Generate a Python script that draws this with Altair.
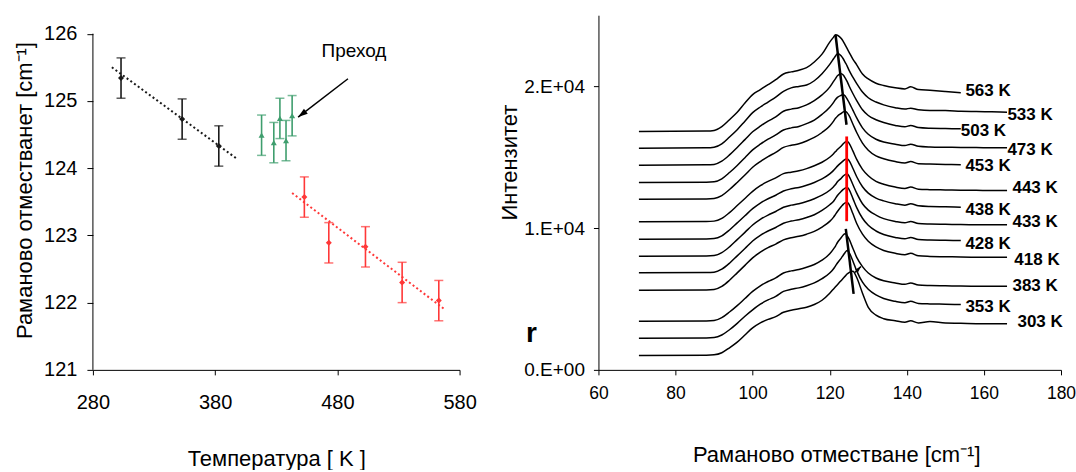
import altair as alt
import pandas as pd

FONT = "Liberation Sans"

# ---------------- Left panel data ----------------
temps_low = [303, 353, 383]
shift_low = [125.34, 124.73, 124.33]
temps_mid = [418, 428, 433, 438, 443]
shift_mid = [124.49, 124.38, 124.74, 124.41, 124.78]
temps_high = [453, 473, 503, 533, 563]
shift_high = [123.57, 122.89, 122.83, 122.30, 122.03]
err_half = 0.3

trend_low_x = [295.5, 397]
trend_low_y = [125.50, 124.15]
trend_high_x = [443, 568.5]
trend_high_y = [123.63, 121.89]

arrow_from = (488.7, 125.33)
arrow_to = (447.9, 124.76)
label_prehod = (493.6, 125.74)

y_ticks_left = [121, 122, 123, 124, 125, 126]
x_ticks_left = [280, 380, 480, 580]

# ---------------- Right panel data ----------------
names = ["563 K", "533 K", "503 K", "473 K", "453 K", "443 K", "438 K",
         "433 K", "428 K", "418 K", "383 K", "353 K", "303 K"]
baselines = [16805, 15630, 14431, 13209, 12033, 10435, 9212, 8013, 6838,
             5616, 3429, 2230, 1008]
wavenumber = [70.5, 88, 90, 92, 94, 96, 98, 100, 102, 104, 106, 108, 110, 112,
              114, 116, 118, 120, 121, 121.5, 122, 123, 123.5, 124, 124.5, 125,
              126, 127, 128.5, 130, 132, 134, 137, 139.5, 141, 143, 146, 150,
              154, 158, 162, 166]
N = None
rel_563 = [0, 30, 70, 340, 830, 1350, 2000, 2600, 2950, 3300, 3650, 4050, 4200, 4320, 4500, 4900, 5450, 6300, 6650, 6820, 6780, 6550, 6350, 6100, 5850, 5600, 5100, 4700, 4050, 3700, 3400, 3240, 3080, 3000, 3150, 2950, 2900, 2820, 2730, N, N, N]
rel_533 = [0, 20, 60, 300, 780, 1300, 1900, 2500, 2900, 3250, 3600, 4000, 4250, 4350, 4450, 4750, 5250, 5900, 6300, 6500, 6655, 6500, 6300, 6050, 5800, 5500, 5000, 4550, 3950, 3550, 3250, 3050, 2850, 2750, 2820, 2700, 2650, 2650, 2600, 2580, 2560, 2536]
rel_503 = [0, 20, 50, 280, 720, 1250, 1800, 2350, 2750, 3100, 3400, 3800, 3950, 4050, 4250, 4550, 4950, 5500, 5900, 6100, 6300, 6443, 6350, 6150, 5900, 5600, 5050, 4550, 3900, 3500, 3200, 3000, 2800, 2700, 2800, 2650, 2600, 2580, 2564, N, N, N]
rel_473 = [0, 20, 50, 260, 700, 1200, 1750, 2300, 2700, 3050, 3350, 3700, 3850, 3950, 4150, 4400, 4800, 5300, 5650, 5850, 6000, 6150, 6205, 6100, 5900, 5650, 5100, 4550, 3850, 3400, 3050, 2850, 2700, 2600, 2700, 2550, 2500, 2480, 2470, 2460, 2450, 2447]
rel_453 = [0, 20, 50, 250, 680, 1180, 1700, 2250, 2650, 3000, 3300, 3650, 3800, 3900, 4100, 4350, 4700, 5150, 5500, 5700, 5850, 6050, 6150, 6204, 6100, 5900, 5300, 4700, 3950, 3450, 3050, 2850, 2650, 2550, 2650, 2500, 2480, 2450, 2424, N, N, N]
rel_443 = [0, 20, 50, 240, 650, 1150, 1650, 2150, 2550, 2850, 3100, 3400, 3500, 3600, 3750, 3950, 4200, 4550, 4800, 4950, 5100, 5350, 5500, 5620, 5686, 5550, 5000, 4400, 3700, 3250, 2850, 2650, 2450, 2350, 2450, 2300, 2270, 2250, 2230, 2220, 2210, 2210]
rel_438 = [0, 20, 50, 240, 650, 1150, 1650, 2150, 2550, 2850, 3100, 3400, 3550, 3650, 3800, 4000, 4250, 4600, 4850, 5000, 5150, 5400, 5520, 5620, 5668, 5550, 5000, 4400, 3700, 3250, 2900, 2700, 2500, 2400, 2500, 2350, 2300, 2280, 2255, N, N, N]
rel_433 = [0, 20, 50, 250, 660, 1170, 1680, 2200, 2600, 2900, 3150, 3450, 3600, 3700, 3850, 4050, 4300, 4650, 4900, 5050, 5250, 5500, 5650, 5750, 5809, 5650, 5050, 4450, 3700, 3250, 2900, 2650, 2450, 2350, 2450, 2300, 2270, 2250, 2230, 2220, 2215, 2213]
rel_428 = [0, 20, 50, 260, 680, 1200, 1720, 2250, 2650, 2950, 3200, 3500, 3650, 3750, 3900, 4100, 4400, 4800, 5050, 5250, 5450, 5750, 5880, 5980, 6039, 5880, 5250, 4600, 3850, 3350, 2950, 2700, 2500, 2400, 2500, 2350, 2320, 2300, 2280, N, N, N]
rel_418 = [0, 20, 50, 270, 700, 1220, 1750, 2280, 2680, 3000, 3250, 3550, 3700, 3800, 3950, 4150, 4450, 4850, 5150, 5350, 5550, 5900, 6050, 6150, 6203, 6050, 5400, 4700, 3950, 3450, 3050, 2800, 2600, 2500, 2600, 2420, 2380, 2360, 2340, 2330, 2330, 2325]
rel_383 = [0, 20, 50, 250, 650, 1100, 1600, 2100, 2500, 2800, 3050, 3400, 3550, 3650, 3800, 4000, 4300, 4750, 5100, 5300, 5550, 5900, 6080, 6162, 6050, 5800, 5150, 4500, 3850, 3400, 3050, 2850, 2700, 2600, 2700, 2550, 2520, 2500, 2480, 2470, 2470, 2467]
rel_353 = [0, 20, 50, 230, 600, 1050, 1550, 2000, 2400, 2700, 2950, 3300, 3450, 3550, 3700, 3900, 4200, 4600, 4900, 5100, 5300, 5650, 5850, 6050, 6183, 6050, 5450, 4750, 3950, 3450, 3050, 2800, 2600, 2500, 2600, 2450, 2420, 2400, 2375, N, N, N]
rel_303 = [0, 20, 50, 200, 550, 950, 1450, 1950, 2300, 2550, 2750, 3050, 3200, 3300, 3400, 3600, 3900, 4400, 4700, 4850, 5000, 5300, 5450, 5600, 5750, 5850, 5945, 5500, 4400, 3400, 2850, 2600, 2450, 2350, 2450, 2300, 2400, 2300, 2280, 2250, 2240, 2236]
spectra = [rel_563, rel_533, rel_503, rel_473, rel_453, rel_443, rel_438,
           rel_433, rel_428, rel_418, rel_383, rel_353, rel_303]

label_x = [155.2, 166.1, 154.0, 166.1, 155.2, 167.4, 155.2, 167.4, 155.2,
           167.9, 167.4, 155.2, 168.7]
label_y = [19626, 17933, 16805, 15465, 14358, 12835, 11234, 10409, 8886,
           7779, 5896, 4464, 3357]

# peak-position guide lines
guide_top = [(121.5, 23624), (124.35, 17278)]
guide_red = [(124.4, 10480), (124.4, 16453)]
guide_low = [(124.17, 9944), (126.2, 5360)]
small_arrow = [(126.5, 6862), (128.1, 7285)]

PLOT_H = 355

# ================= build left panel =================
rows = []
for grp, ts, ys in (("low", temps_low, shift_low), ("mid", temps_mid, shift_mid),
                    ("high", temps_high, shift_high)):
    for t, v in zip(ts, ys):
        rows.append({"T": t, "shift": v, "lo": v - err_half, "hi": v + err_half, "grp": grp})
pts = pd.DataFrame(rows)

grp_dom = ["low", "mid", "high"]
pt_color = alt.Color("grp:N", scale=alt.Scale(domain=grp_dom, range=["#000000", "#008000", "#ff0000"]), legend=None)
bar_color = alt.Color("grp:N", scale=alt.Scale(domain=grp_dom, range=["#1a1a1a", "#3f9e6e", "#ff3838"]), legend=None)
shape_enc = alt.Shape("grp:N", scale=alt.Scale(domain=grp_dom, range=["diamond", "triangle-up", "diamond"]), legend=None)

# the left plot area is taller than its axis (axis line stops at 126)
y_top_left = 121 + PLOT_H / 67.3
xL_scale = alt.Scale(domain=[280, 580], nice=False, zero=False)
yL_scale = alt.Scale(domain=[121, y_top_left], nice=False, zero=False)
xL_axis = alt.Axis(values=x_ticks_left, title="Температура [ K ]",
                   labelFontSize=20, titleFontSize=22, tickSize=5,
                   labelPadding=18, titlePadding=36)
yL_axis = alt.Axis(values=y_ticks_left, format="d", domain=False,
                   title="Раманово отместванет [cm⁻¹]",
                   labelFontSize=20, titleFontSize=22, tickSize=6,
                   labelPadding=10, titlePadding=7, titleY=175)

base_L = alt.Chart(pts)
bars = base_L.mark_rule(strokeWidth=1.6).encode(
    x=alt.X("T:Q", scale=xL_scale, axis=xL_axis),
    y=alt.Y("lo:Q", scale=yL_scale, axis=yL_axis),
    y2="hi:Q", color=bar_color)
cap_lo = base_L.mark_tick(orient="horizontal", size=9, thickness=1.5).encode(
    x="T:Q", y="lo:Q", color=bar_color)
cap_hi = base_L.mark_tick(orient="horizontal", size=9, thickness=1.5).encode(
    x="T:Q", y="hi:Q", color=bar_color)
points = base_L.mark_point(filled=True, opacity=1, size=36).encode(
    x="T:Q", y="shift:Q", color=pt_color, shape=shape_enc)

yaxis_line = alt.Chart(pd.DataFrame({"T": [x_ticks_left[0]], "a": [y_ticks_left[0]], "b": [y_ticks_left[-1]]})).mark_rule(
    color="black", strokeWidth=1).encode(x="T:Q", y="a:Q", y2="b:Q")

trend_df = pd.DataFrame({
    "T": trend_low_x + trend_high_x,
    "shift": trend_low_y + trend_high_y,
    "grp": ["low", "low", "high", "high"],
})
trends = alt.Chart(trend_df).mark_line(strokeDash=[2, 2.6], strokeWidth=2).encode(
    x="T:Q", y="shift:Q", color=pt_color, detail="grp:N")

arrow_df = pd.DataFrame({"T": [arrow_from[0]], "shift": [arrow_from[1]],
                         "T2": [arrow_to[0]], "shift2": [arrow_to[1]]})
arrow_line = alt.Chart(arrow_df).mark_rule(color="black", strokeWidth=1.5).encode(
    x="T:Q", y="shift:Q", x2="T2:Q", y2="shift2:Q")
arrow_head = alt.Chart(arrow_df).mark_point(
    shape="M0,0L0.55,1.7L-0.55,1.7Z", filled=True, color="black", opacity=1,
    size=130, angle=233).encode(x="T2:Q", y="shift2:Q")
txt_df = pd.DataFrame({"T": [label_prehod[0]], "shift": [label_prehod[1]], "t": ["Преход"]})
prehod = alt.Chart(txt_df).mark_text(font=FONT, fontSize=19, color="black").encode(
    x="T:Q", y="shift:Q", text="t:N")

left = alt.layer(bars, yaxis_line, cap_lo, cap_hi, trends, points, arrow_line, arrow_head, prehod).properties(
    width=367, height=PLOT_H)

# ================= build right panel =================
srows = []
for nm, b, rel in zip(names, baselines, spectra):
    for j, (xv, rv) in enumerate(zip(wavenumber, rel)):
        if rv is not None:
            srows.append({"wn": xv, "I": b + rv, "curve": nm, "k": j})
spec = pd.DataFrame(srows)

xR = alt.X("wn:Q", scale=alt.Scale(domain=[60, 180], nice=False, zero=False),
           axis=alt.Axis(values=[60, 80, 100, 120, 140, 160, 180],
                         title="Раманово отместване [cm⁻¹]",
                         labelFontSize=17.5, titleFontSize=22, tickSize=5,
                         labelPadding=10, titlePadding=42, titleX=238))
yR = alt.Y("I:Q", scale=alt.Scale(domain=[0, 25000], nice=False, zero=False),
           axis=alt.Axis(values=[0, 10000, 20000], title="Интензитет",
                         labelExpr="datum.value == 0 ? '0.E+00' : (datum.value == 10000 ? '1.E+04' : '2.E+04')",
                         labelFontSize=19, titleFontSize=22, tickSize=5,
                         labelPadding=9, titlePadding=2, titleY=147))

lines = alt.Chart(spec).mark_line(color="black", strokeWidth=1.5, interpolate="monotone").encode(
    x=xR, y=yR, detail="curve:N", order="k:Q")

lab_df = pd.DataFrame({"wn": label_x, "I": label_y, "t": names})
labels = alt.Chart(lab_df).mark_text(font=FONT, fontSize=17, fontWeight="bold", align="left",
                                     baseline="middle", color="black").encode(
    x="wn:Q", y="I:Q", text="t:N")

def seg_df(seg):
    return pd.DataFrame({"wn": [seg[0][0]], "I": [seg[0][1]], "wn2": [seg[1][0]], "I2": [seg[1][1]]})

def seg_rule(seg, color, width):
    return alt.Chart(seg_df(seg)).mark_rule(color=color, strokeWidth=width).encode(
        x="wn:Q", y="I:Q", x2="wn2:Q", y2="I2:Q")

g_top = seg_rule(guide_top, "black", 2.5)
g_red = seg_rule(guide_red, "#ff0000", 2.8)
g_low = seg_rule(guide_low, "black", 2.5)
sa_line = seg_rule(small_arrow, "black", 1.5)
sa_head = alt.Chart(seg_df(small_arrow)).mark_point(
    shape="M0,0L0.55,1.7L-0.55,1.7Z", filled=True, color="black",
    opacity=1, size=50, angle=45).encode(x="wn2:Q", y="I2:Q")
glyph = alt.Chart(pd.DataFrame({"t": ["r"]})).mark_text(
    font=FONT, fontSize=28, fontWeight="bold", color="black", baseline="alphabetic").encode(
    x=alt.value(-67), y=alt.value(327), text="t:N")

right = alt.layer(lines, g_top, g_red, g_low, sa_line, sa_head, labels, glyph).properties(
    width=463, height=PLOT_H)

chart = alt.hconcat(left, right, spacing=22).properties(
    padding={"left": 13, "top": 15, "right": 0, "bottom": 0}
).configure_view(stroke=None).configure_axis(
    grid=False, domainColor="#000000", tickColor="#000000", labelColor="#000000",
    titleColor="#000000", labelFont=FONT, titleFont=FONT, titleFontWeight="normal",
    domainWidth=1, tickWidth=1, labelFlush=False
).configure_title(font=FONT)

chart.save("out.html", embed_options={"renderer": "svg", "actions": False})
